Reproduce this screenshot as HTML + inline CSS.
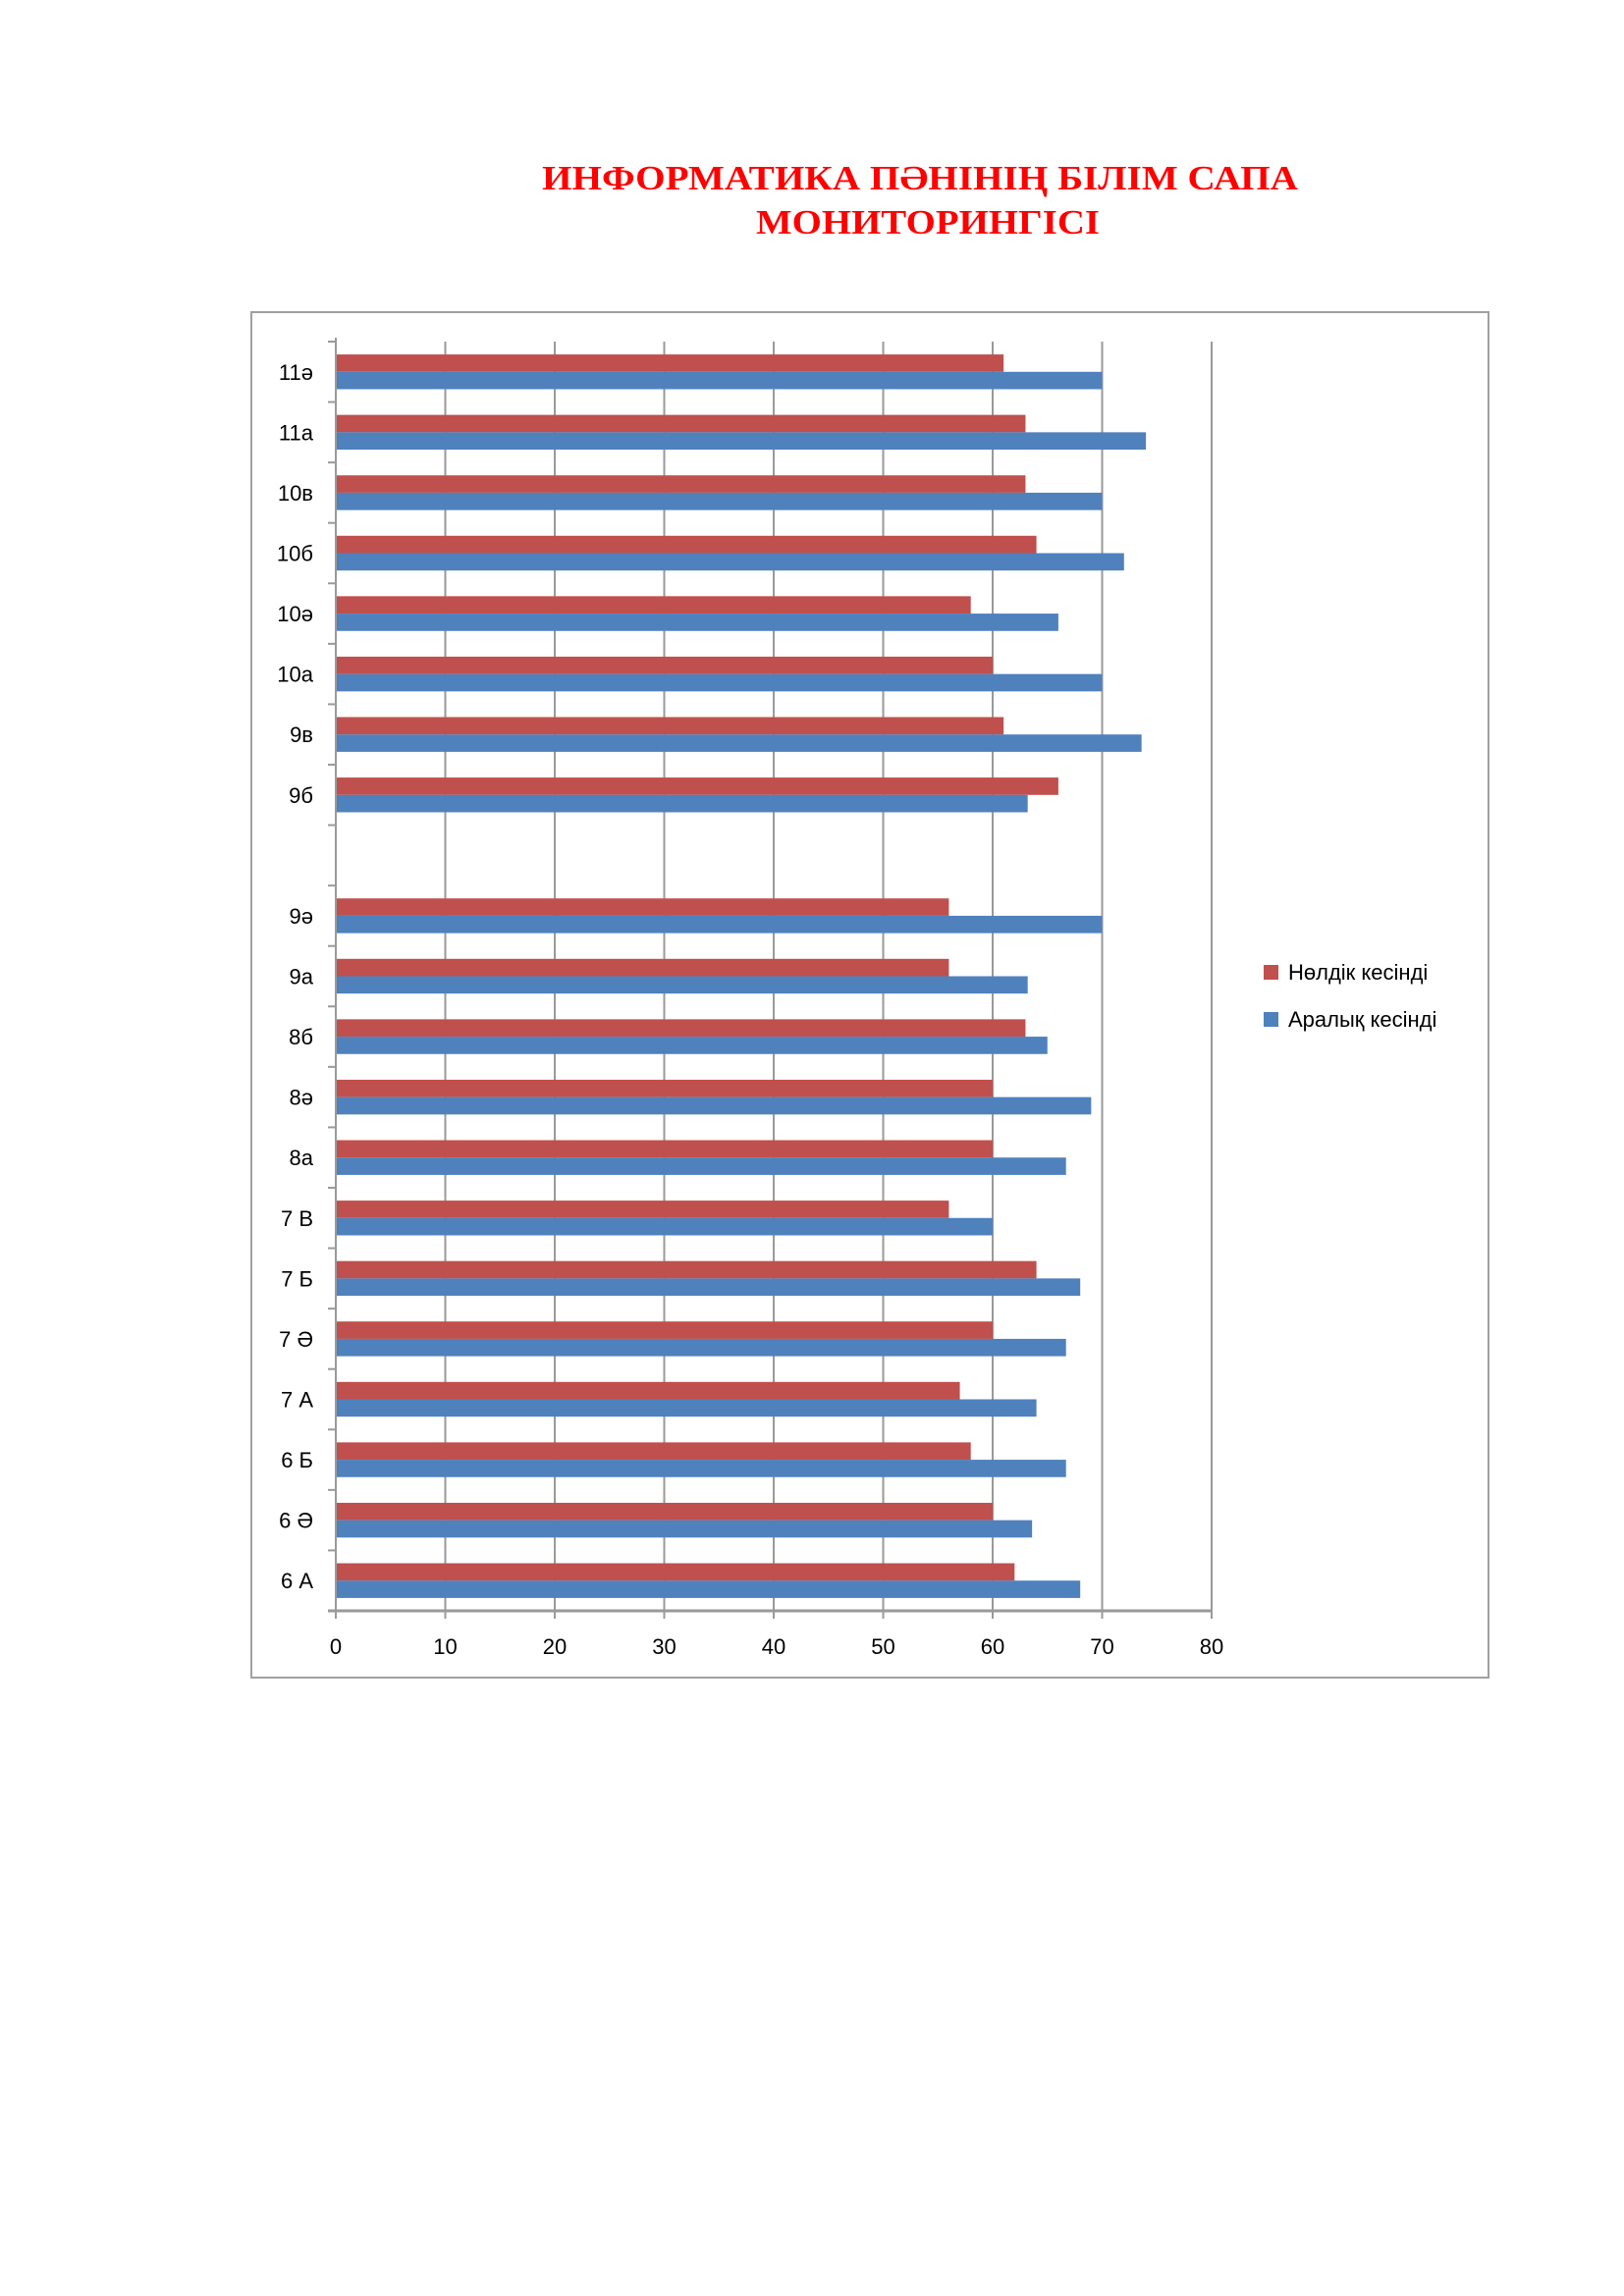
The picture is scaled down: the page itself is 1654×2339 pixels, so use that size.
<!DOCTYPE html>
<html><head><meta charset="utf-8"><style>
html,body{margin:0;padding:0;background:#fff;}
svg{display:block;}
</style></head><body>
<svg id="chart" width="1654" height="2339" xmlns="http://www.w3.org/2000/svg" font-family="Liberation Sans, DejaVu Sans, sans-serif">
<text x="937" y="193" text-anchor="middle" font-family="Liberation Serif, serif" font-weight="bold" font-size="35" fill="#ff0000" textLength="770" lengthAdjust="spacingAndGlyphs">ИНФОРМАТИКА ПӘНІНІҢ БІЛІМ САПА</text>
<text x="945" y="238" text-anchor="middle" font-family="Liberation Serif, serif" font-weight="bold" font-size="35" fill="#ff0000" textLength="350" lengthAdjust="spacingAndGlyphs">МОНИТОРИНГІСІ</text>
<rect x="256" y="318" width="1260" height="1391" fill="#fff" stroke="#a0a0a0" stroke-width="2"/>
<g id="plot"></g>
<g>
<rect x="1287" y="983" width="15" height="15" fill="#c0504d"/>
<text x="1312" y="998" font-size="22" fill="#000">Нөлдік кесінді</text>
<rect x="1287" y="1031" width="15" height="15" fill="#4f81bd"/>
<text x="1312" y="1046" font-size="22" fill="#000">Аралық кесінді</text>
</g>
</svg>
<script>
const categories = ["11ә","11а","10в","10б","10ә","10а","9в","9б","","9ә","9а","8б","8ә","8а","7 В","7 Б","7 Ә","7 А","6 Б","6 Ә","6 А"];
const nuldik = [61,63,63,64,58,60,61,66,null,56,56,63,60,60,56,64,60,57,58,60,62];
const aralyk = [70,74,70,72,66,70,73.6,63.2,null,70,63.2,65,69,66.7,60,68,66.7,64,66.7,63.6,68];
const xTicks = [0,10,20,30,40,50,60,70,80];

const NS = "http://www.w3.org/2000/svg";
const g = document.getElementById("plot");
const X0 = 342, X1 = 1234, Y0 = 348, Y1 = 1641, XMAX = 80;
const slot = (Y1 - Y0) / categories.length;
const barH = 17.7;
function xs(v){ return X0 + (v / XMAX) * (X1 - X0); }
function ys(i){ return Y0 + slot * i + slot / 2; }
function mk(tag, attrs){ const e = document.createElementNS(NS, tag); for (const k in attrs) e.setAttribute(k, attrs[k]); g.appendChild(e); return e; }

xTicks.forEach(t => {
  if (t > 0) {
    const l = mk("line", {x1: xs(t), x2: xs(t), y1: Y0, y2: Y1, stroke: "#9a9a9a", "stroke-width": 2});
    
    
  }
  const tk = mk("line", {x1: xs(t), x2: xs(t), y1: Y1, y2: Y1 + 8, stroke: "#9a9a9a", "stroke-width": 2});
  
  
  const tx = mk("text", {x: xs(t), y: 1685, "text-anchor": "middle", "font-size": 22, fill: "#000"});
  tx.textContent = t;
  
  
});

categories.forEach((c, i) => {
  const cy = ys(i);
  if (nuldik[i] != null) {
    const r = mk("rect", {x: X0, y: cy - barH, width: xs(nuldik[i]) - X0, height: barH, fill: "#c0504d"});
    
    
  }
  if (aralyk[i] != null) {
    const b = mk("rect", {x: X0, y: cy, width: xs(aralyk[i]) - X0, height: barH, fill: "#4f81bd"});
    
    
  }
  if (c) {
    const t = mk("text", {x: 319, y: cy + 8, "text-anchor": "end", "font-size": 22, fill: "#000"});
    t.textContent = c;
    
    
  }
});
for (let i = 0; i <= categories.length; i++) {
  const tk = mk("line", {x1: X0 - 8, x2: X0, y1: Y0 + slot * i, y2: Y0 + slot * i, stroke: "#9a9a9a", "stroke-width": 2});
  
  
}
const ya = mk("line", {x1: X0, x2: X0, y1: Y0 - 4, y2: Y1, stroke: "#9a9a9a", "stroke-width": 2});


const xa = mk("line", {x1: X0 - 8, x2: X1, y1: Y1, y2: Y1, stroke: "#9a9a9a", "stroke-width": 3});


</script>
</body></html>
